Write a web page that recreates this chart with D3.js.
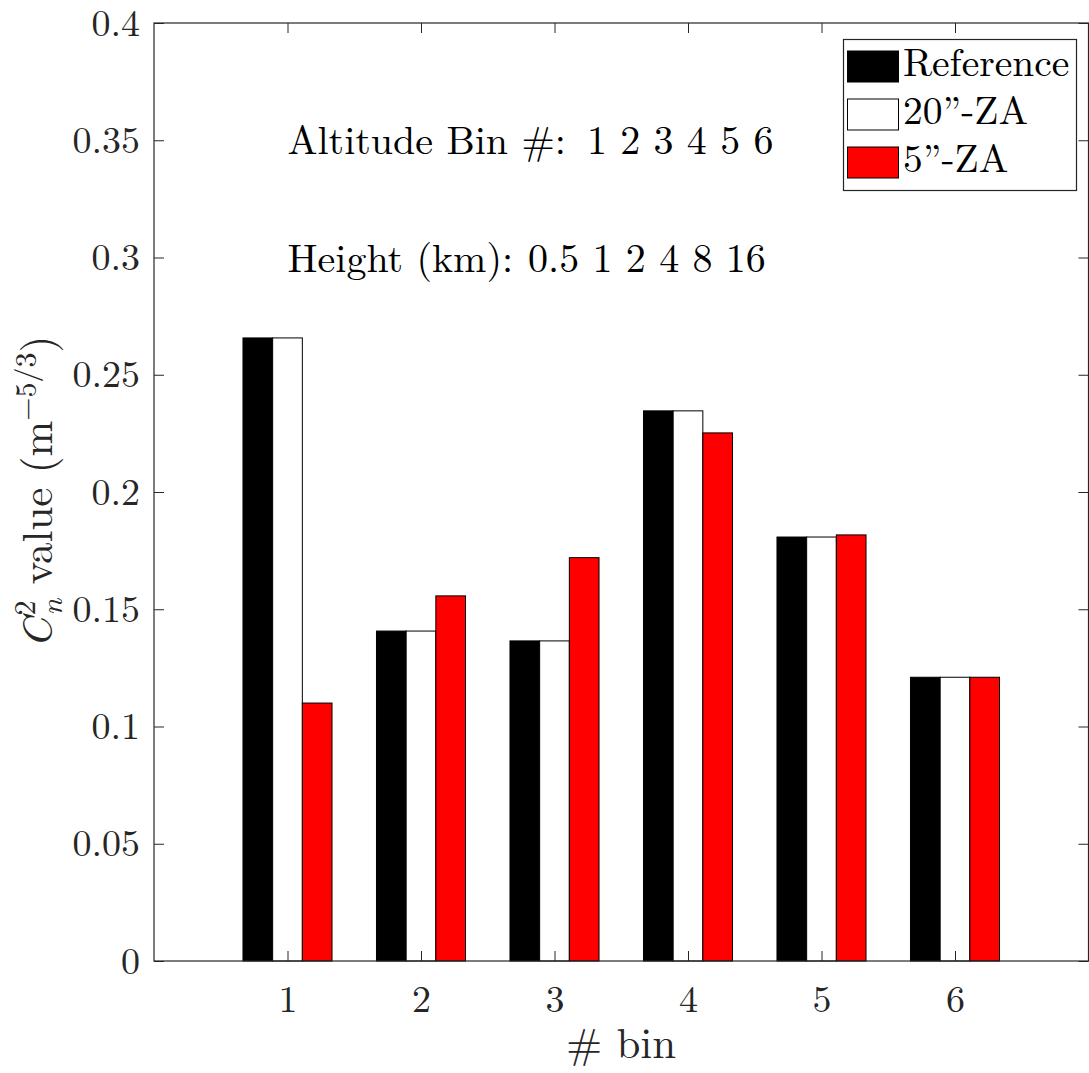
<!DOCTYPE html>
<html>
<head>
<meta charset="utf-8">
<script src="https://cdn.jsdelivr.net/npm/d3@7"></script>
<style>
  html, body { margin: 0; padding: 0; background: #fff; }
  svg { display: block; }
</style>
</head>
<body>
<svg id="chart" width="1089" height="1073"></svg>
<script>
// Altitude bins and the Cn^2 value of each profile
const bins = [1, 2, 3, 4, 5, 6];
const seriesNames = ["Reference", "20”-ZA", "5”-ZA"];
const reference = [0.2657, 0.1407, 0.1365, 0.2346, 0.1808, 0.1210];
const za20 = [0.2657, 0.1407, 0.1365, 0.2346, 0.1808, 0.1210];
const za5 = [0.1100, 0.1557, 0.1720, 0.2252, 0.1817, 0.1210];
const seriesFill = ["#000000", "#ffffff", "#ff0000"];
const yTicks = [0, 0.05, 0.1, 0.15, 0.2, 0.25, 0.3, 0.35, 0.4];
const xTicks = [1, 2, 3, 4, 5, 6];
const noteHeads = ["Altitude Bin #:", "Height (km):"];
const noteValues = ["1 2 3 4 5 6", "0.5 1 2 4 8 16"];
const noteGap = [21, 15];
const noteY = [0.35, 0.30];

const svg = d3.select("#chart");
const plotL = 154, plotR = 1088.5, plotT = 23, plotB = 961;
const axisColor = "#262626";
const serif = "'Latin Modern Roman', 'CMU Serif', 'Liberation Serif', serif";

const x = d3.scaleLinear().domain([0, 7]).range([plotL, plotR]);
const y = d3.scaleLinear().domain([0, 0.4]).range([plotB, plotT]);

const values = [reference, za20, za5];
const groupWidth = 0.667;
const barW = groupWidth / 3;

// grouped bars
const gBars = svg.append("g");
values.forEach((vals, s) => {
  gBars.selectAll(null)
    .data(bins.map((b, i) => ({ b, v: vals[i] })))
    .join("rect")
    .attr("x", d => x(d.b - groupWidth / 2 + s * barW))
    .attr("width", x(barW) - x(0))
    .attr("y", d => y(d.v))
    .attr("height", d => y(0) - y(d.v))
    .attr("fill", seriesFill[s])
    .attr("stroke", "#000")
    .attr("stroke-width", 1);
});

// axes: ticks point inward on all four sides
const tickLen = 10;
const axL = d3.axisLeft(y).tickValues(yTicks).tickFormat(d => d === 0 ? "0" : String(+d.toFixed(2))).tickSizeInner(-tickLen).tickSizeOuter(0).tickPadding(14);
const axR = d3.axisRight(y).tickValues(yTicks).tickFormat("").tickSizeInner(-tickLen).tickSizeOuter(0);
const axB = d3.axisBottom(x).tickValues(xTicks).tickFormat(d3.format("d")).tickSizeInner(-tickLen).tickSizeOuter(0).tickPadding(24);
const axT = d3.axisTop(x).tickValues(xTicks).tickFormat("").tickSizeInner(-tickLen).tickSizeOuter(0);

function style(g) {
  g.attr("font-family", serif).attr("font-size", 38);
  g.select(".domain").remove();
  g.selectAll(".tick line").attr("stroke", axisColor).attr("stroke-width", 1);
  g.selectAll(".tick text").attr("fill", axisColor);
}
svg.append("g").attr("transform", `translate(${plotL},0)`).call(axL).call(style);
svg.append("g").attr("transform", `translate(${plotR},0)`).call(axR).call(style);
svg.append("g").attr("transform", `translate(0,${plotB})`).call(axB).call(style);
svg.append("g").attr("transform", `translate(0,${plotT})`).call(axT).call(style);

// box
svg.append("rect")
  .attr("x", plotL).attr("y", plotT)
  .attr("width", plotR - plotL).attr("height", plotB - plotT)
  .attr("fill", "none").attr("stroke", axisColor).attr("stroke-width", 1.2);

// axis labels
svg.append("text")
  .attr("x", (plotL + plotR) / 2).attr("y", 1058)
  .attr("text-anchor", "middle")
  .attr("font-family", serif)
  .attr("font-size", 43)
  .attr("fill", axisColor)
  .text("# bin");

const yl = svg.append("text")
  .attr("transform", `translate(52,${(plotT + plotB) / 2}) rotate(-90)`)
  .attr("text-anchor", "middle")
  .attr("font-family", serif)
  .attr("font-size", 43)
  .attr("fill", axisColor);
yl.append("tspan").attr("font-style", "italic").text("C");
yl.append("tspan").attr("dx", 2).attr("dy", -17).attr("font-size", 30).text("2");
yl.append("tspan").attr("dx", -15).attr("dy", 27).attr("font-size", 30).attr("font-style", "italic").text("n");
yl.append("tspan").attr("dy", -10).text(" value (m");
yl.append("tspan").attr("dy", -16).attr("font-size", 30).text("−5/3");
yl.append("tspan").attr("dy", 16).text(")");

// annotation lines
const notes = svg.selectAll(".note")
  .data(noteHeads)
  .join("text")
  .attr("class", "note")
  .attr("x", x(1))
  .attr("y", (d, i) => y(noteY[i]))
  .attr("dy", "0.35em")
  .attr("font-family", serif)
  .attr("font-size", 40)
  .attr("fill", "#000");
notes.append("tspan").text(d => d);
notes.append("tspan").attr("dx", (d, i) => noteGap[i]).text((d, i) => noteValues[i]);

// legend
const lg = svg.append("g");
lg.append("rect")
  .attr("x", 843.5).attr("y", 39.5).attr("width", 233).attr("height", 151)
  .attr("fill", "#fff").attr("stroke", axisColor).attr("stroke-width", 1.2);
const swY = [51, 99, 147];
const txtY = [76, 124, 172];
seriesNames.forEach((name, i) => {
  lg.append("rect")
    .attr("x", 847.5).attr("y", swY[i]).attr("width", 51).attr("height", 31)
    .attr("fill", seriesFill[i]).attr("stroke", "#000").attr("stroke-width", 1);
  lg.append("text")
    .attr("x", 903).attr("y", txtY[i])
    .attr("font-family", serif)
    .attr("font-size", 39.5).attr("fill", "#000")
    .text(name);
});
</script>
</body>
</html>
